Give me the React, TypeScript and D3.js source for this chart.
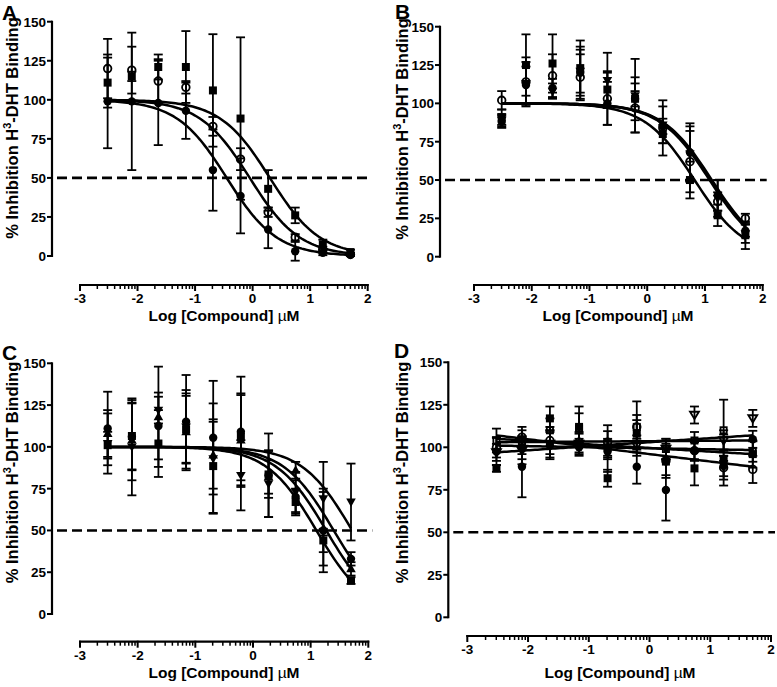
import React from 'react'
import * as d3 from 'd3'

// log10 of the compound concentrations (µM)
const logConc = [-2.52, -2.1, -1.64, -1.16, -0.69, -0.21, 0.27, 0.74, 1.22, 1.7]
const yTicks = [0, 25, 50, 75, 100, 125, 150]
const xMajorTicks = [-3, -2, -1, 0, 1, 2]
const minorSteps = [2, 3, 4, 5, 6, 7, 8, 9]

// panel A
const aSquare = [111, 115, 121, 121, 106, 88, 43, 26, 7.5, 2.5]
const aSquareErr = [16, 3, 8, 23, 36, 52, 12, 5, 3, 1.5]
const aOpenCircle = [120, 119, 112, 108, 83, 62, 28, 12, 4, 1]
const aOpenCircleErr = [19, 15, 14, 4, 6, 7, 3, 2, 2, 1]
const aCircle = [99, 99, 98, 93, 55, 38.5, 17, 3, 2, 1]
const aCircleErr = [30, 44, 27, 18, 26, 24, 12, 6, 1.5, 1]
const aIC50 = [0.3, -0.05, -0.45]

// panel B
const bSquare = [91, 125, 126, 123, 109, 103, 80, 50, 27, 14]
const bSquareErr = [5, 20, 19, 18, 12, 14, 6, 12, 7, 9]
const bOpenCircle = [102, 114, 118, 117, 103, 97, 84, 62, 36, 25]
const bOpenCircleErr = [6, 16, 14, 15, 17, 16, 18, 20, 6, 3]
const bCircle = [88, 112, 110, 120, 100, 103, 85, 68, 40, 17]
const bCircleErr = [4, 12, 6, 17, 14, 5, 5, 19, 10, 4]
const bTriDown = [89, 113, 108, 121, 115, 105, 86, 67, 38, 15]
const bTriDownErr = [4, 14, 5, 14, 18, 24, 12, 18, 12, 6]
const bIC50 = [0.82, 1.08, 1.12, 1.1]

// panel C
const cSquare = [101, 106.5, 102, 110.5, 88.5, 106, 83.5, 67, 44, 20]
const cSquareErr = [8, 20, 20, 20, 28, 26, 14, 8, 7, 2]
const cCircle = [111, 106, 112.5, 115, 105.5, 109, 83, 70, 50, 33]
const cCircleErr = [22, 20, 20, 28, 34, 33, 25, 10, 25, 4]
const cTriUp = [108, 104, 118, 109, 95, 104, 82, 86, 51, 27]
const cTriUpErr = [14, 24, 30, 23, 20, 27, 10, 5, 22, 4]
const cTriDown = [102, 100, 122, 112, 93, 83, 78, 73, 69, 67]
const cTriDownErr = [18, 29, 8, 22, 33, 21, 20, 12, 22, 23]
const cIC50 = [1.1, 1.4, 1.27, 1.72]

// panel D (no inhibition, straight fits)
const dOpenTriDown = [97, 98, 102, 102, 99, 101, 99, 119, 104, 117]
const dOpenTriDownErr = [5, 5, 8, 6, 5, 6, 6, 5, 6, 5]
const dOpenSquare = [104, 101, 110, 111, 100, 112, 99, 104, 110, 97.5]
const dOpenSquareErr = [7, 5, 7, 9, 5, 7, 6, 5, 18, 6]
const dCircle = [97.5, 88.6, 101, 100, 97.5, 88.6, 74.9, 98, 89, 104.7]
const dCircleErr = [8, 18, 8, 5, 12, 10, 18, 5, 6, 5]
const dOpenCircle = [100, 106, 104, 103, 103, 112, 92, 98, 88, 87]
const dOpenCircleErr = [6, 6, 8, 6, 10, 15, 10, 6, 7, 8]
const dSquare = [87.6, 100, 117, 112, 81.8, 108, 91.6, 87.6, 92.5, 96]
const dSquareErr = [2, 10, 7, 12, 5, 8, 8, 10, 15, 8]
const dFitIntercept = [103, 99.45, 99.6, 96, 103.6]
const dFitSlope = [2.37, -0.62, -2.13, -4.36, 0.24]

type Shape = 'square' | 'openSquare' | 'circle' | 'openCircle' | 'triUp' | 'triDown' | 'openTriDown'
type Series = { shape: Shape; values: number[]; err: number[] }

const sigmoid = (ic50: number) => (x: number) => 100 / (1 + Math.pow(10, x - ic50))
const straight = (a: number, b: number) => (x: number) => a + b * x

const panels = [
  {
    label: 'A',
    layout: { yAxisX: 52, yTop: 21.7, yBottom: 256, xAxisY: 285, xLeft: 80, xRight: 367.7, labelX: 2, labelY: 20, titleX: 18, titleY: 128, xTitleX: 224, xTitleY: 321 },
    series: [
      { shape: 'square', values: aSquare, err: aSquareErr },
      { shape: 'openCircle', values: aOpenCircle, err: aOpenCircleErr },
      { shape: 'circle', values: aCircle, err: aCircleErr },
    ] as Series[],
    fits: aIC50.map(sigmoid),
  },
  {
    label: 'B',
    layout: { yAxisX: 440, yTop: 26.7, yBottom: 256.7, xAxisY: 285, xLeft: 474, xRight: 762.7, labelX: 395, labelY: 19, titleX: 408, titleY: 129, xTitleX: 618, xTitleY: 321 },
    series: [
      { shape: 'square', values: bSquare, err: bSquareErr },
      { shape: 'openCircle', values: bOpenCircle, err: bOpenCircleErr },
      { shape: 'circle', values: bCircle, err: bCircleErr },
      { shape: 'triDown', values: bTriDown, err: bTriDownErr },
    ] as Series[],
    fits: bIC50.map(sigmoid),
  },
  {
    label: 'C',
    layout: { yAxisX: 52, yTop: 363.3, yBottom: 614, xAxisY: 641.7, xLeft: 80, xRight: 368.3, labelX: 2, labelY: 360, titleX: 18, titleY: 472.5, xTitleX: 224, xTitleY: 678 },
    series: [
      { shape: 'square', values: cSquare, err: cSquareErr },
      { shape: 'circle', values: cCircle, err: cCircleErr },
      { shape: 'triUp', values: cTriUp, err: cTriUpErr },
      { shape: 'triDown', values: cTriDown, err: cTriDownErr },
    ] as Series[],
    fits: cIC50.map(sigmoid),
  },
  {
    label: 'D',
    layout: { yAxisX: 448.3, yTop: 362.3, yBottom: 617.3, xAxisY: 636, xLeft: 467.3, xRight: 771, labelX: 394, labelY: 358, titleX: 408, titleY: 472.5, xTitleX: 620, xTitleY: 678 },
    series: [
      { shape: 'openTriDown', values: dOpenTriDown, err: dOpenTriDownErr },
      { shape: 'openSquare', values: dOpenSquare, err: dOpenSquareErr },
      { shape: 'circle', values: dCircle, err: dCircleErr },
      { shape: 'openCircle', values: dOpenCircle, err: dOpenCircleErr },
      { shape: 'square', values: dSquare, err: dSquareErr },
    ] as Series[],
    fits: dFitIntercept.map((a, i) => straight(a, dFitSlope[i])),
  },
]

const FONT = '"Liberation Sans", Arial, Helvetica, sans-serif'

const Marker = ({ shape, x, y }: { shape: Shape; x: number; y: number }) => {
  const s = 4
  switch (shape) {
    case 'square':
      return <rect x={x - s} y={y - s} width={2 * s} height={2 * s} fill="#000" />
    case 'openSquare':
      return <rect x={x - s + 0.9} y={y - s + 0.9} width={2 * s - 1.8} height={2 * s - 1.8} fill="none" stroke="#000" strokeWidth={1.8} />
    case 'circle':
      return <circle cx={x} cy={y} r={4.2} fill="#000" />
    case 'openCircle':
      return <circle cx={x} cy={y} r={3.8} fill="none" stroke="#000" strokeWidth={1.8} />
    case 'triUp':
      return <path d={`M${x},${y - 5}L${x + 4.8},${y + 3.4}L${x - 4.8},${y + 3.4}Z`} fill="#000" />
    case 'triDown':
      return <path d={`M${x},${y + 5}L${x + 4.8},${y - 3.4}L${x - 4.8},${y - 3.4}Z`} fill="#000" />
    case 'openTriDown':
      return <path d={`M${x},${y + 4}L${x + 4.4},${y - 3.2}L${x - 4.4},${y - 3.2}Z`} fill="none" stroke="#000" strokeWidth={1.9} />
  }
}

const Panel = ({ panel }: { panel: (typeof panels)[number] }) => {
  const L = panel.layout
  const x = d3.scaleLinear().domain([-3, 2]).range([L.xLeft, L.xRight])
  const y = d3.scaleLinear().domain([0, 150]).range([L.yBottom, L.yTop])
  const samples = d3.range(0, 101).map(i => logConc[0] + (i / 100) * (logConc[logConc.length - 1] - logConc[0]))
  const line = d3.line<number>()
  const minorTicks = d3.range(-3, 2).flatMap(n => minorSteps.map(k => n + Math.log10(k)))

  return (
    <g fontFamily={FONT} fontWeight="bold">
      <text x={L.labelX} y={L.labelY} fontSize={21}>{panel.label}</text>

      {/* y axis */}
      <line x1={L.yAxisX} x2={L.yAxisX} y1={y(150) - 1} y2={y(0) + 1} stroke="#000" strokeWidth={2.2} />
      {yTicks.map(t => (
        <g key={t}>
          <line x1={L.yAxisX - 5} x2={L.yAxisX} y1={y(t)} y2={y(t)} stroke="#000" strokeWidth={2} />
          <text x={L.yAxisX - 6} y={y(t)} dy="0.36em" textAnchor="end" fontSize={13.5}>{t}</text>
        </g>
      ))}
      <text transform={`translate(${L.titleX},${L.titleY}) rotate(-90)`} textAnchor="middle" fontSize={16.5}>
        % Inhibition H<tspan dy={-7} fontSize={11}>3</tspan><tspan dy={7}>-DHT Binding</tspan>
      </text>

      {/* x axis, detached below the plot */}
      <line x1={x(-3) - 1} x2={x(2) + 1} y1={L.xAxisY} y2={L.xAxisY} stroke="#000" strokeWidth={2.2} />
      {xMajorTicks.map(t => (
        <g key={t}>
          <line x1={x(t)} x2={x(t)} y1={L.xAxisY - 1} y2={L.xAxisY + 6} stroke="#000" strokeWidth={2} />
          <text x={x(t)} y={L.xAxisY + 18} textAnchor="middle" fontSize={13.5}>{t}</text>
        </g>
      ))}
      {minorTicks.map((t, i) => (
        <line key={i} x1={x(t)} x2={x(t)} y1={L.xAxisY} y2={L.xAxisY + 4} stroke="#000" strokeWidth={1.5} />
      ))}
      <text x={L.xTitleX} y={L.xTitleY} textAnchor="middle" fontSize={15.5}>
        Log [Compound]  <tspan fontWeight="normal">µ</tspan>M
      </text>

      {/* 50 % reference */}
      <line x1={L.yAxisX + 5} x2={x(2) + 4} y1={y(50)} y2={y(50)} stroke="#000" strokeWidth={2.6} strokeDasharray="10 5" />

      {/* fitted curves */}
      {panel.fits.map((f, i) => (
        <path key={i} d={line(samples.map(s => [x(s), y(f(s))]) as any) || ''} fill="none" stroke="#000" strokeWidth={2.5} />
      ))}

      {/* error bars */}
      {panel.series.map((s, si) =>
        s.values.map((v, i) => {
          const cx = x(logConc[i])
          const hi = y(v + s.err[i])
          const lo = y(v - s.err[i])
          return (
            <g key={`${si}-${i}`} stroke="#000" strokeWidth={1.8}>
              <line x1={cx} x2={cx} y1={hi} y2={lo} />
              <line x1={cx - 4.5} x2={cx + 4.5} y1={hi} y2={hi} />
              <line x1={cx - 4.5} x2={cx + 4.5} y1={lo} y2={lo} />
            </g>
          )
        })
      )}

      {/* markers */}
      {panel.series.map((s, si) =>
        s.values.map((v, i) => <Marker key={`m${si}-${i}`} shape={s.shape} x={x(logConc[i])} y={y(v)} />)
      )}
    </g>
  )
}

export default function App() {
  return (
    <svg width={777} height={687} style={{ position: 'absolute', left: 0, top: 0, background: '#fff' }}>
      <rect width={777} height={687} fill="#fff" />
      {panels.map(p => (
        <Panel key={p.label} panel={p} />
      ))}
    </svg>
  )
}
